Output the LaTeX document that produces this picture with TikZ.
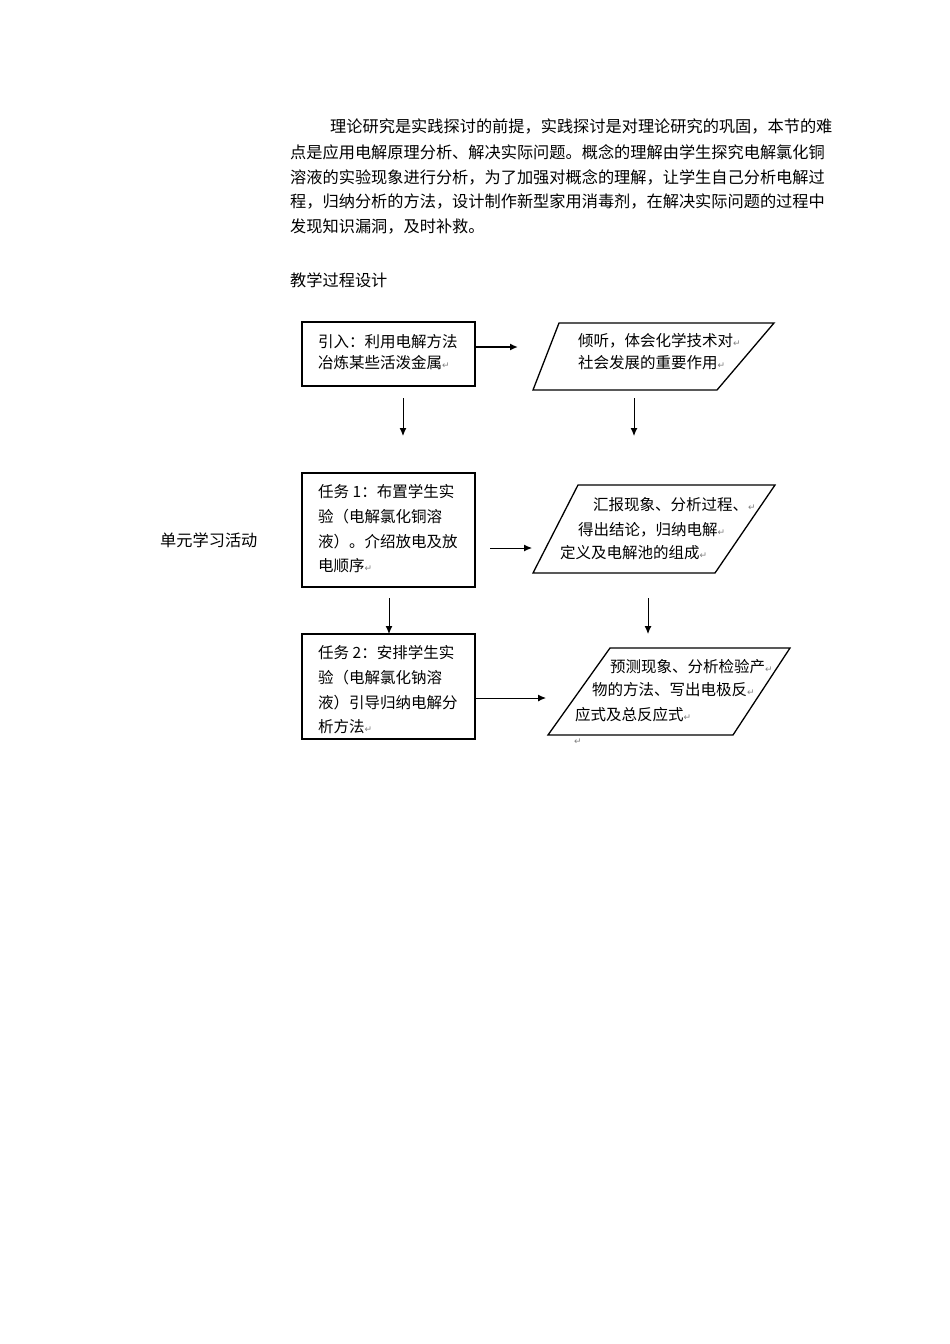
\documentclass[tikz,border=0pt]{standalone}
\usepackage{fontspec}
\newfontfamily\cjk{Noto Sans CJK SC}
\newfontfamily\dv{DejaVu Sans}
\usetikzlibrary{arrows.meta}
\newcommand{\rt}{{\dv\fontsize{9}{9}\selectfont\color{gray}↵}}
\begin{document}
\begin{tikzpicture}[x=1pt,y=-1pt,
  body/.style={anchor=west,inner sep=0pt,font=\cjk\fontsize{16.2}{20}\selectfont},
  lbl/.style={anchor=west,inner sep=0pt,font=\cjk\fontsize{15.5}{20}\selectfont},
  shp/.style={draw,line width=1.3pt},
  arr/.style={draw,line width=1pt,-{Latex[length=8pt,width=7pt]}}]
\useasboundingbox (0,0) rectangle (950,1344);
% paragraph
\node[body] (p1) at (330,127) {理论研究是实践探讨的前提，实践探讨是对理论研究的巩固，本节的难};
\node[body] (p2) at (290,152) {点是应用电解原理分析、解决实际问题。概念的理解由学生探究电解氯化铜};
\node[body] (p3) at (290,177) {溶液的实验现象进行分析，为了加强对概念的理解，让学生自己分析电解过};
\node[body] (p4) at (290,202) {程，归纳分析的方法，设计制作新型家用消毒剂，在解决实际问题的过程中};
\node[body] (p5) at (290,227) {发现知识漏洞，及时补救。};
\node[body] (title) at (290,280) {教学过程设计};
\node[body] (side) at (160,540) {单元学习活动};
% boxes
\draw[shp] (302,322) rectangle (475,386);
\draw[shp] (302,473) rectangle (475,587);
\draw[shp] (302,634) rectangle (475,739);
\draw[shp] (559,323) -- (774,323) -- (717,390) -- (533,390) -- cycle;
\draw[shp] (578,485) -- (775,485) -- (715,573) -- (533,573) -- cycle;
\draw[shp] (610,648) -- (790,648) -- (733,735) -- (548,735) -- cycle;
% texts
\node[lbl] (b1a) at (318,342) {引入：利用电解方法};
\node[lbl] (b1b) at (318,363) {冶炼某些活泼金属\rt};
\node[lbl] (b2a) at (318,492) {任务 1：布置学生实};
\node[lbl] (b2b) at (318,517) {验（电解氯化铜溶};
\node[lbl] (b2c) at (318,542) {液）。介绍放电及放};
\node[lbl] (b2d) at (318,566) {电顺序\rt};
\node[lbl] (b3a) at (318,653) {任务 2：安排学生实};
\node[lbl] (b3b) at (318,678) {验（电解氯化钠溶};
\node[lbl] (b3c) at (318,703) {液）引导归纳电解分};
\node[lbl] (b3d) at (318,727) {析方法\rt};
\node[lbl] (q1a) at (578,341) {倾听，体会化学技术对\rt};
\node[lbl] (q1b) at (578,363) {社会发展的重要作用\rt};
\node[lbl] (q2a) at (593,505) {汇报现象、分析过程、\rt};
\node[lbl] (q2b) at (578,530) {得出结论，归纳电解\rt};
\node[lbl] (q2c) at (560,553) {定义及电解池的组成\rt};
\node[lbl] (q3a) at (610,667) {预测现象、分析检验产\rt};
\node[lbl] (q3b) at (592,690) {物的方法、写出电极反\rt};
\node[lbl] (q3c) at (575,715) {应式及总反应式\rt};
\node[lbl] (q3d) at (574,742) {\rt};
% arrows
\coordinate (a1s) at (475,347); \coordinate (a1e) at (518,347);
\coordinate (a2s) at (403,398); \coordinate (a2e) at (403,436);
\coordinate (a3s) at (634,398); \coordinate (a3e) at (634,436);
\coordinate (a4s) at (490,548); \coordinate (a4e) at (532,548);
\coordinate (a5s) at (389,598); \coordinate (a5e) at (389,634);
\coordinate (a6s) at (648,598); \coordinate (a6e) at (648,634);
\coordinate (a7s) at (475,698); \coordinate (a7e) at (546,698);
\draw[arr,line width=1.8pt] (a1s) -- (a1e);
\foreach \a in {2,...,7} \draw[arr] (a\a s) -- (a\a e);
\end{tikzpicture}
\end{document}
